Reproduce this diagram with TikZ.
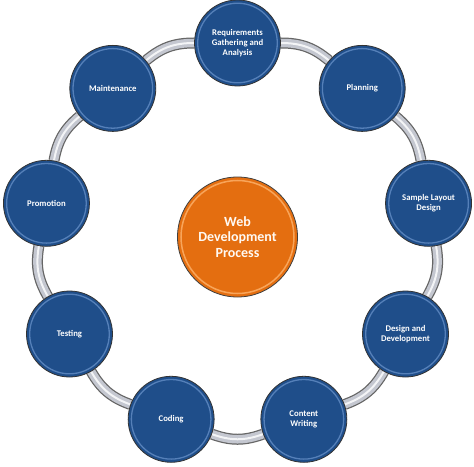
\documentclass[tikz,border=0pt]{standalone}
\usepackage{fontspec}
\setmainfont{Carlito}
\usetikzlibrary{backgrounds}
\definecolor{stepblue}{RGB}{31,78,138}
\definecolor{rimblue}{RGB}{85,128,185}
\definecolor{weborange}{RGB}{228,110,16}
\definecolor{rimorange}{RGB}{248,165,90}
\definecolor{ringgray}{RGB}{196,199,208}
\tikzset{
  stepnode/.style={circle, minimum size=86pt, inner sep=0pt, fill=stepblue,
    draw=black!80, line width=0.8pt, text=white, align=center,
    font=\fontsize{8.7}{9.8}\selectfont\bfseries,
    path picture={\draw[rimblue, line width=1.3pt]
      (path picture bounding box.center) circle (39.8pt);}},
  hubnode/.style={circle, minimum size=120pt, inner sep=0pt, fill=weborange,
    draw=black!75, line width=0.8pt, text=white!95!orange, align=center,
    font=\fontsize{14}{15.5}\selectfont\bfseries,
    path picture={\draw[rimorange, line width=1.5pt]
      (path picture bounding box.center) circle (56.5pt);}},
  ring/.style={line width=8.5pt, draw=ringgray,
    preaction={draw=black!60, line width=11pt},
    postaction={draw=white!80!ringgray, line width=2pt}}
}
\begin{document}
\begin{tikzpicture}[x=1pt,y=1pt]
    \useasboundingbox (-237.5,-229) rectangle (236.5,237);
    \node[hubnode] (w) at (0,0) {Web\\Development\\Process};
    \node[stepnode] (a) at (90:194) {Requirements\\Gathering and\\Analysis};
    \node[stepnode] (b) at (50:194) {Planning};
    \node[stepnode] (c) at (10:194) {Sample Layout\\Design};
    \node[stepnode] (d) at (-30:194) {Design and\\Development};
    \node[stepnode] (e) at (-70:194) {Content\\Writing};
    \node[stepnode] (f) at (-110:194) {Coding};
    \node[stepnode] (g) at (-150:194) {Testing};
    \node[stepnode] (h) at (170:194) {Promotion};
    \node[stepnode] (i) at (130:194) {Maintenance};
    \begin{scope}[on background layer]
        \draw[ring] (a) to[bend left=20] (b);
        \draw[ring] (b) to[bend left=20] (c);
        \draw[ring] (c) to[bend left=20] (d);
        \draw[ring] (d) to[bend left=20] (e);
        \draw[ring] (e) to[bend left=20] (f);
        \draw[ring] (f) to[bend left=20] (g);
        \draw[ring] (g) to[bend left=20] (h);
        \draw[ring] (h) to[bend left=20] (i);
        \draw[ring] (i) to[bend left=20] (a);
    \end{scope}
\end{tikzpicture}
\end{document}
